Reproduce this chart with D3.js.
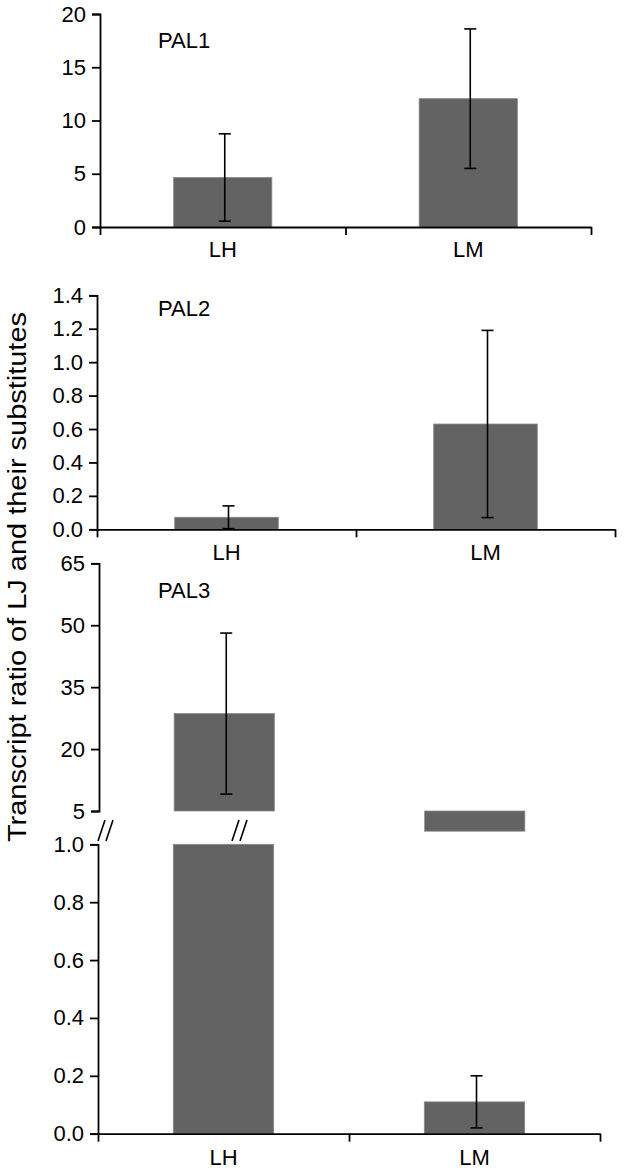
<!DOCTYPE html>
<html>
<head>
<meta charset="utf-8">
<script src="https://cdn.jsdelivr.net/npm/d3@7"></script>
<style>
  html, body { margin: 0; padding: 0; background: #fff; }
  svg { display: block; font-family: "Liberation Sans", Arial, Helvetica, sans-serif; }
</style>
</head>
<body>
<svg id="chart" width="624" height="1170"></svg>
<script>
// ---- data ----
const categories = ["LH", "LM"];

const pal1Mean = [4.65, 12.05];
const pal1SD   = [4.1, 6.55];
const pal1Ticks = [0, 5, 10, 15, 20];

const pal2Mean = [0.072, 0.63];
const pal2SD   = [0.068, 0.56];
const pal2Ticks = [0.0, 0.2, 0.4, 0.6, 0.8, 1.0, 1.2, 1.4];

const pal3Mean = [28.6, 0.11];
const pal3SD   = [19.5, 0.09];
const pal3UpperTicks = [5, 20, 35, 50, 65];
const pal3LowerTicks = [0.0, 0.2, 0.4, 0.6, 0.8, 1.0];

const panelNames = ["PAL1", "PAL2", "PAL3"];
const yTitle = "Transcript ratio of LJ and their substitutes";

// ---- layout ----
const svg = d3.select("#chart");
const BAR = "#636363";
const FS = 22;

function drawPanel(cfg) {
  const g = svg.append("g");
  const x = d3.scaleBand().domain(categories).range([cfg.x0, cfg.x1])
    .paddingInner(0.6).paddingOuter(0.3);
  const y = d3.scaleLinear().domain(cfg.domain).range([cfg.yBot, cfg.yTop]);
  const lo = cfg.domain[0], hi = cfg.domain[1];

  // bars
  g.selectAll("rect.bar").data(categories).join("rect")
    .attr("class", "bar")
    .attr("x", d => x(d))
    .attr("width", x.bandwidth())
    .attr("y", (d, i) => {
      const v = cfg.clampTop ? Math.min(cfg.mean[i], hi) : cfg.mean[i];
      return Math.min(y(lo), y(v));
    })
    .attr("height", (d, i) => {
      const v = cfg.clampTop ? Math.min(cfg.mean[i], hi) : cfg.mean[i];
      return Math.abs(y(v) - y(lo));
    })
    .attr("fill", BAR)
    .attr("stroke", "#8a8a8a")
    .attr("stroke-width", 0.8);

  // error bars (only where mean lies inside the panel's range)
  categories.forEach((c, i) => {
    const m = cfg.mean[i];
    if (m < lo || m > hi) return;
    const cx = x(c) + x.bandwidth() / 2 + 2;
    const yt = y(m + cfg.sd[i]), yb = y(m - cfg.sd[i]);
    const eg = g.append("g").attr("stroke", "#000").attr("stroke-width", 1.6);
    eg.append("line").attr("x1", cx).attr("x2", cx).attr("y1", yt).attr("y2", yb);
    eg.append("line").attr("x1", cx - 6).attr("x2", cx + 6).attr("y1", yt).attr("y2", yt);
    eg.append("line").attr("x1", cx - 6).attr("x2", cx + 6).attr("y1", yb).attr("y2", yb);
  });

  // y axis
  const ya = g.append("g").attr("transform", `translate(${cfg.x0},0)`)
    .call(d3.axisLeft(y).tickValues(cfg.ticks).tickFormat(d3.format(cfg.fmt))
      .tickSize(8).tickSizeOuter(8).tickPadding(6));
  ya.selectAll("path,line").attr("stroke", "#000").attr("stroke-width", 1.8);
  ya.selectAll("text").attr("font-size", FS).attr("fill", "#000")
    .attr("font-family", '"Liberation Sans", Arial, sans-serif');

  // x axis
  if (cfg.xAxis) {
    const xl = d3.scaleLinear().domain([0, categories.length]).range([cfg.x0, cfg.x1]);
    const xa = g.append("g").attr("transform", `translate(0,${cfg.yBot})`)
      .call(d3.axisBottom(xl).tickValues(d3.range(categories.length + 1))
        .tickFormat("").tickSize(8).tickSizeOuter(0));
    xa.selectAll("path,line").attr("stroke", "#000").attr("stroke-width", 1.8);
    g.selectAll("text.cat").data(categories).join("text")
      .attr("class", "cat")
      .attr("x", d => x(d) + x.bandwidth() / 2)
      .attr("y", cfg.yBot + cfg.labelDy)
      .attr("text-anchor", "middle")
      .attr("font-size", FS)
      .text(d => d);
  }

  if (cfg.name) {
    g.append("text").attr("x", 158).attr("y", cfg.nameY)
      .attr("font-size", FS).text(cfg.name);
  }
  return { x, y };
}

drawPanel({ x0: 100, x1: 591, yTop: 14, yBot: 227, domain: [0, 20],
  mean: pal1Mean, sd: pal1SD, ticks: pal1Ticks, fmt: "d", xAxis: true,
  labelDy: 30, name: panelNames[0], nameY: 48 });

drawPanel({ x0: 97, x1: 615, yTop: 295.3, yBot: 529.3, domain: [0, 1.4],
  mean: pal2Mean, sd: pal2SD, ticks: pal2Ticks, fmt: ".1f", xAxis: true,
  labelDy: 31, name: panelNames[1], nameY: 316 });

drawPanel({ x0: 99, x1: 600, yTop: 563.3, yBot: 811, domain: [5, 65],
  mean: pal3Mean, sd: pal3SD, ticks: pal3UpperTicks, fmt: "d", xAxis: false,
  name: panelNames[2], nameY: 598 });

drawPanel({ x0: 98, x1: 600, yTop: 844.3, yBot: 1133.7, domain: [0, 1],
  mean: pal3Mean, sd: pal3SD, ticks: pal3LowerTicks, fmt: ".1f", xAxis: true,
  clampTop: true, labelDy: 31 });

// axis break marks "//"
function breakMark(x0) {
  const bg = svg.append("g").attr("stroke", "#000").attr("stroke-width", 1.6);
  [0, 8].forEach(o => {
    bg.append("line").attr("x1", x0 + o).attr("y1", 841)
      .attr("x2", x0 + o + 7).attr("y2", 820);
  });
}
breakMark(98);
breakMark(232);

// y axis title
svg.append("text")
  .attr("transform", "translate(26,577) rotate(-90)")
  .attr("text-anchor", "middle")
  .attr("font-size", 25)
  .attr("textLength", 530)
  .attr("lengthAdjust", "spacingAndGlyphs")
  .text(yTitle);
</script>
</body>
</html>
